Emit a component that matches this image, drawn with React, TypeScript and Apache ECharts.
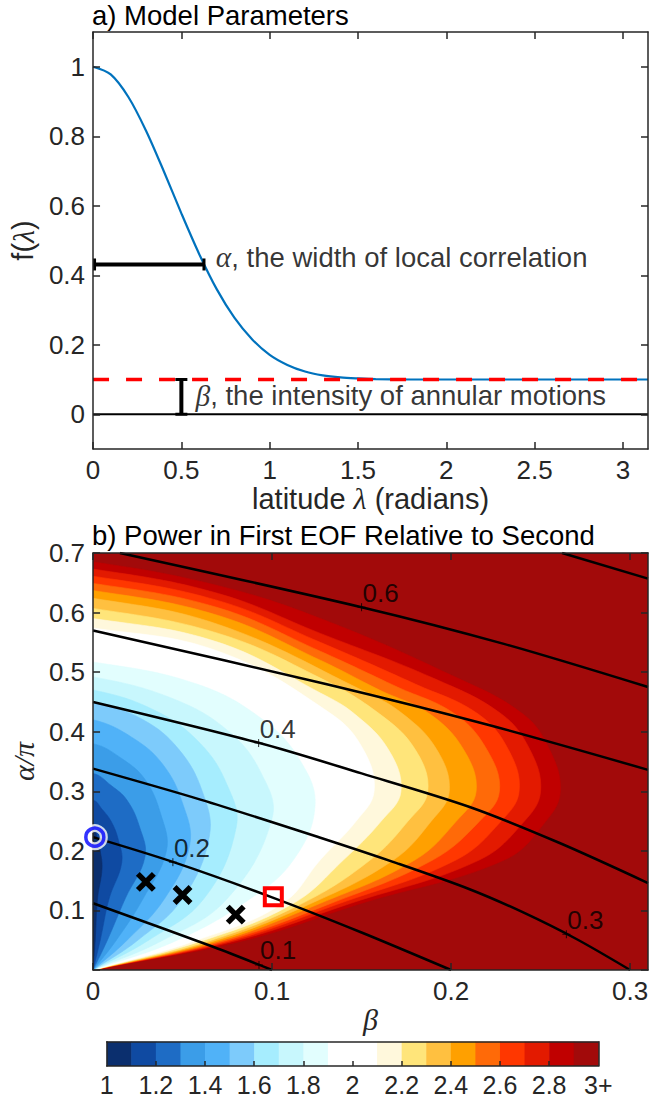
import React, { useEffect, useRef } from "react";
import * as echarts from "echarts";

// ---------------- Panel a) data ----------------
const lambdaValues = [0, 0.1, 0.2, 0.3, 0.4, 0.5, 0.6, 0.7, 0.8, 0.9, 1.0, 1.1, 1.2, 1.3, 1.4, 1.5, 1.6, 1.8, 2.0, 2.5, 3.1416];
const fValues = [1.0, 0.978, 0.913, 0.816, 0.7, 0.578, 0.462, 0.36, 0.278, 0.216, 0.171, 0.142, 0.123, 0.112, 0.106, 0.103, 0.101, 0.1, 0.1, 0.1, 0.1];
const lambdaMax = 3.1416;
const betaLevel = 0.1;
const alphaBar = [[0, 0.431, 0.628]]; // [x0, y, x1]
const betaBar = [[0.5, 0, 0.1]]; // [x, y0, y1]
const alphaTextAt = [[0.695, 0.431]];
const betaTextAt = [[0.58, 0.05]];
const topXTicks = [0, 0.5, 1, 1.5, 2, 2.5, 3];
const topYTicks = [0, 0.2, 0.4, 0.6, 0.8, 1];

// ---------------- Panel b) data ----------------
const bottomXTicks = [0, 0.1, 0.2, 0.3];
const bottomYTicks = [0, 0.1, 0.2, 0.3, 0.4, 0.5, 0.6, 0.7];
const bottomYLabels = [0.1, 0.2, 0.3, 0.4, 0.5, 0.6, 0.7];
const contourLevels = [1.1, 1.2, 1.3, 1.4, 1.5, 1.6, 1.7, 1.8, 1.9, 2.1, 2.2, 2.3, 2.4, 2.5, 2.6, 2.7, 2.8, 2.9];
const contourPaths: number[][][] = [
  [[0, 0], [0.0012, 0.05], [0.0025, 0.12], [0.005, 0.17], [0.004, 0.2], [0.002, 0.225], [0, 0.245]],
  [[0, 0], [0.004, 0.05], [0.009, 0.12], [0.016, 0.18], [0.014, 0.22], [0.01, 0.25], [0.005, 0.27], [0, 0.285]],
  [[0, 0], [0.008, 0.05], [0.018, 0.12], [0.029, 0.19], [0.026, 0.24], [0.019, 0.285], [0.01, 0.31], [0, 0.33]],
  [[0, 0], [0.013, 0.05], [0.028, 0.12], [0.041, 0.2], [0.038, 0.26], [0.029, 0.32], [0.016, 0.355], [0, 0.38]],
  [[0, 0], [0.019, 0.05], [0.04, 0.12], [0.054, 0.21], [0.05, 0.28], [0.039, 0.345], [0.022, 0.39], [0, 0.42]],
  [[0, 0], [0.025, 0.05], [0.05, 0.12], [0.065, 0.225], [0.061, 0.3], [0.048, 0.37], [0.028, 0.42], [0, 0.45]],
  [[0, 0], [0.031, 0.05], [0.062, 0.12], [0.08, 0.24], [0.075, 0.31], [0.06, 0.38], [0.035, 0.435], [0, 0.47]],
  [[0, 0], [0.039, 0.05], [0.075, 0.12], [0.1, 0.255], [0.094, 0.33], [0.076, 0.4], [0.045, 0.455], [0, 0.492]],
  [[0, 0], [0.047, 0.05], [0.088, 0.12], [0.112, 0.185], [0.124, 0.275], [0.116, 0.35], [0.095, 0.42], [0.058, 0.48], [0, 0.517]],
  [[0, 0], [0.058, 0.05], [0.106, 0.112], [0.127, 0.185], [0.147, 0.25], [0.157, 0.3], [0.151, 0.37], [0.133, 0.43], [0.07, 0.535], [0, 0.574]],
  [[0, 0], [0.062, 0.05], [0.112, 0.112], [0.14, 0.185], [0.161, 0.25], [0.172, 0.3], [0.165, 0.37], [0.146, 0.43], [0.127, 0.465], [0.07, 0.55], [0, 0.59]],
  [[0, 0], [0.066, 0.05], [0.117, 0.112], [0.155, 0.185], [0.176, 0.25], [0.187, 0.3], [0.18, 0.37], [0.16, 0.43], [0.127, 0.49], [0.07, 0.565], [0, 0.607]],
  [[0, 0], [0.069, 0.05], [0.122, 0.112], [0.168, 0.185], [0.189, 0.25], [0.199, 0.3], [0.192, 0.37], [0.173, 0.43], [0.15, 0.47], [0.07, 0.58], [0, 0.624]],
  [[0, 0], [0.072, 0.05], [0.127, 0.112], [0.18, 0.185], [0.203, 0.25], [0.214, 0.3], [0.207, 0.37], [0.188, 0.43], [0.16, 0.47], [0.127, 0.52], [0.07, 0.595], [0, 0.637]],
  [[0, 0], [0.075, 0.05], [0.133, 0.112], [0.19, 0.185], [0.216, 0.25], [0.227, 0.3], [0.22, 0.37], [0.202, 0.43], [0.17, 0.475], [0.127, 0.535], [0.07, 0.608], [0, 0.649]],
  [[0, 0], [0.078, 0.05], [0.138, 0.112], [0.203, 0.185], [0.228, 0.25], [0.238, 0.3], [0.232, 0.37], [0.215, 0.43], [0.18, 0.48], [0.127, 0.55], [0.07, 0.62], [0, 0.661]],
  [[0, 0], [0.081, 0.05], [0.144, 0.112], [0.216, 0.185], [0.241, 0.25], [0.25, 0.3], [0.244, 0.37], [0.228, 0.43], [0.19, 0.49], [0.127, 0.565], [0.07, 0.632], [0, 0.673]],
  [[0, 0], [0.085, 0.05], [0.15, 0.112], [0.23, 0.185], [0.253, 0.25], [0.261, 0.3], [0.255, 0.37], [0.24, 0.43], [0.2, 0.495], [0.127, 0.59], [0.07, 0.645], [0, 0.685]],
];
const bandEdges = [1.0, 1.1, 1.2, 1.3, 1.4, 1.5, 1.6, 1.7, 1.8, 1.9, 2.0, 2.1, 2.2, 2.3, 2.4, 2.5, 2.6, 2.7, 2.8, 2.9];
const bandColors = [
  "#0b2f6e", "#0f4aa2", "#1e6cc5", "#3b9de8", "#50b2f8", "#7dcbfb", "#a6edfe", "#c8f7fd", "#e2fefe", "#ffffff",
  "#ffffff", "#fff8dc", "#ffe57a", "#ffc040", "#ffa000", "#ff6a08", "#ff3700", "#e31a00", "#c00000", "#a20a0a",
];
const lineContours: number[][][] = [
  [[0, 0.112], [0.067, 0.039], [0.1, 0]],
  [[0, 0.223], [0.045, 0.181], [0.1, 0.122], [0.15, 0.063], [0.2, 0]],
  [[0, 0.338], [0.06, 0.286], [0.127, 0.222], [0.17, 0.179], [0.21, 0.136], [0.24, 0.097], [0.27, 0.052], [0.3, 0]],
  [[0, 0.45], [0.093, 0.381], [0.15, 0.33], [0.21, 0.274], [0.26, 0.214], [0.31, 0.146]],
  [[0, 0.57], [0.13, 0.48], [0.22, 0.412], [0.31, 0.336]],
  [[0.015, 0.7], [0.15, 0.609], [0.23, 0.547], [0.31, 0.475]],
  [[0.262, 0.7], [0.31, 0.657]],
];
const lineLabelPoints = [[0.0927, 0.0084], [0.0446, 0.181], [0.2644, 0.06], [0.0925, 0.381], [0.15, 0.609]];
const lineLabelTexts = ["0.1", "0.2", "0.3", "0.4", "0.6"];
const circlePoint = [[0.001, 0.223]];
const crossPoints = [[0.0295, 0.148], [0.05, 0.126], [0.0797, 0.093]];
const squarePoint = [[0.1007, 0.123]];
const colorbarTicks = [1, 1.2, 1.4, 1.6, 1.8, 2, 2.2, 2.4, 2.6, 2.8, 3];
const colorbarInnerTicks = [1.2, 1.4, 1.6, 1.8, 2, 2.2, 2.4, 2.6, 2.8];

const FONT = "'Liberation Sans', Arial, Helvetica, sans-serif";
const SERIF = "'Liberation Serif', 'DejaVu Serif', serif";
const AX = "#262626";
const FS_TICK = 26;
const FS_NAME = 29;
const FS_TITLE = 27.5;
const FS_NOTE = 27.5;

const richName = {
  g: { fontFamily: SERIF, fontStyle: "italic", fontSize: FS_NAME + 1, color: AX },
};
const richNote = {
  g: { fontFamily: SERIF, fontStyle: "italic", fontSize: FS_NOTE + 2, color: "#000" },
};

function mkAxis(o: any) {
  const showLabel = !!o.labels;
  return {
    type: "value",
    gridIndex: o.grid,
    min: o.min,
    max: o.max,
    position: o.position,
    z: 5,
    axisLine: { show: true, onZero: false, lineStyle: { color: AX, width: 1.5 } },
    axisTick: o.ticks
      ? { show: true, inside: true, length: o.tickLen || 7, customValues: o.ticks, lineStyle: { color: AX, width: 1.5 } }
      : { show: false },
    axisLabel: showLabel
      ? {
          show: true,
          customValues: o.labels,
          margin: o.margin || 8,
          fontSize: o.labelSize || FS_TICK,
          color: AX,
          fontFamily: FONT,
          showMinLabel: true,
          showMaxLabel: true,
          formatter: o.formatter || ((v: number) => String(v)),
        }
      : { show: false },
    splitLine: { show: false },
    name: o.name,
    nameLocation: "middle",
    nameGap: o.nameGap,
    nameRotate: o.nameRotate,
    nameTextStyle: { fontSize: FS_NAME, color: AX, fontFamily: FONT, rich: richName },
  };
}

export default function App() {
  const ref = useRef<HTMLDivElement>(null);
  useEffect(() => {
    if (!ref.current) return;
    const chart = echarts.init(ref.current, undefined, { renderer: "svg" });

    const topGrid = { left: 92, top: 32, width: 556, height: 417, show: false };
    const botGrid = {
      left: 92, top: 553, width: 556, height: 417, show: true,
      backgroundColor: bandColors[bandColors.length - 1], borderWidth: 0,
    };
    const cbGrid = { left: 106.7, top: 1041.7, width: 491.6, height: 24.3, show: false };

    const xAxis = [
      mkAxis({ grid: 0, min: 0, max: lambdaMax, position: "bottom", ticks: topXTicks, labels: topXTicks,
        name: "latitude {g|λ} (radians)", nameGap: 29 }),
      mkAxis({ grid: 0, min: 0, max: lambdaMax, position: "top", ticks: topXTicks }),
      mkAxis({ grid: 1, min: 0, max: 0.31, position: "bottom", ticks: bottomXTicks, labels: bottomXTicks,
        name: "{g|β}", nameGap: 28 }),
      mkAxis({ grid: 1, min: 0, max: 0.31, position: "top", ticks: bottomXTicks }),
      mkAxis({ grid: 2, min: 1, max: 3, position: "bottom", ticks: colorbarInnerTicks, tickLen: 5,
        labels: colorbarTicks, margin: 6, labelSize: 25, formatter: (v: number) => (v === 3 ? "3+" : String(v)) }),
      mkAxis({ grid: 2, min: 1, max: 3, position: "top" }),
    ];
    const yAxis = [
      mkAxis({ grid: 0, min: -0.1, max: 1.1, position: "left", ticks: topYTicks, labels: topYTicks,
        name: "f({g|λ})", nameGap: 50, nameRotate: 90 }),
      mkAxis({ grid: 0, min: -0.1, max: 1.1, position: "right", ticks: topYTicks }),
      mkAxis({ grid: 1, min: 0, max: 0.7, position: "left", ticks: bottomYTicks, labels: bottomYLabels,
        name: "{g|α/π}", nameGap: 50, nameRotate: 90 }),
      mkAxis({ grid: 1, min: 0, max: 0.7, position: "right", ticks: bottomYTicks }),
      mkAxis({ grid: 2, min: 0, max: 1, position: "left" }),
      mkAxis({ grid: 2, min: 0, max: 1, position: "right" }),
    ];

    const curveData = lambdaValues.map((l, i) => [l, fValues[i]]);

    const series: any[] = [
      // ---------- panel a ----------
      {
        type: "line", xAxisIndex: 0, yAxisIndex: 0, data: curveData, smooth: 0.3,
        showSymbol: false, symbol: "none", lineStyle: { color: "#0072bd", width: 2.2 }, z: 2,
      },
      {
        type: "line", xAxisIndex: 0, yAxisIndex: 0, data: [[0, 0], [lambdaMax, 0]], symbol: "none",
        lineStyle: { color: "#000", width: 2 }, z: 2,
      },
      {
        type: "line", xAxisIndex: 0, yAxisIndex: 0, data: [[0, betaLevel], [lambdaMax, betaLevel]], symbol: "none",
        lineStyle: { color: "#ff0000", width: 3.6, type: [16, 17] }, z: 3,
      },
      {
        type: "custom", xAxisIndex: 0, yAxisIndex: 0, data: alphaBar, z: 4,
        renderItem: (_p: any, api: any) => {
          const a = api.coord([api.value(0), api.value(1)]);
          const b = api.coord([api.value(2), api.value(1)]);
          return {
            type: "group",
            children: [
              { type: "line", shape: { x1: a[0], y1: a[1], x2: b[0], y2: b[1] }, style: { stroke: "#000", lineWidth: 4 } },
              { type: "line", shape: { x1: a[0] + 1.5, y1: a[1] - 6, x2: a[0] + 1.5, y2: a[1] + 6 }, style: { stroke: "#000", lineWidth: 3 } },
              { type: "line", shape: { x1: b[0], y1: b[1] - 6, x2: b[0], y2: b[1] + 6 }, style: { stroke: "#000", lineWidth: 3 } },
            ],
          };
        },
      },
      {
        type: "custom", xAxisIndex: 0, yAxisIndex: 0, data: betaBar, z: 4,
        renderItem: (_p: any, api: any) => {
          const a = api.coord([api.value(0), api.value(1)]);
          const b = api.coord([api.value(0), api.value(2)]);
          return {
            type: "group",
            children: [
              { type: "line", shape: { x1: a[0], y1: a[1], x2: b[0], y2: b[1] }, style: { stroke: "#000", lineWidth: 4 } },
              { type: "line", shape: { x1: a[0] - 6, y1: a[1], x2: a[0] + 6, y2: a[1] }, style: { stroke: "#000", lineWidth: 3 } },
              { type: "line", shape: { x1: b[0] - 6, y1: b[1], x2: b[0] + 6, y2: b[1] }, style: { stroke: "#000", lineWidth: 3 } },
            ],
          };
        },
      },
      {
        type: "scatter", xAxisIndex: 0, yAxisIndex: 0, data: alphaTextAt, symbolSize: 0, z: 5,
        label: {
          show: true, position: "right", distance: 0, offset: [0, -7],
          formatter: "{g|α}, the width of local correlation",
          fontSize: FS_NOTE, color: "#000", fontFamily: FONT, rich: richNote,
        },
      },
      {
        type: "scatter", xAxisIndex: 0, yAxisIndex: 0, data: betaTextAt, symbolSize: 0, z: 5,
        label: {
          show: true, position: "right", distance: 0, offset: [0, -1],
          formatter: "{g|β}, the intensity of annular motions",
          fontSize: FS_NOTE, color: "#000", fontFamily: FONT, rich: richNote,
        },
      },
      // ---------- panel b ----------
      {
        type: "custom", xAxisIndex: 2, yAxisIndex: 2, z: 1,
        data: contourLevels.map((_, i) => [contourLevels.length - 1 - i, 0]),
        renderItem: (params: any, api: any) => {
          const idx = api.value(0);
          const pts = contourPaths[idx];
          const level = contourLevels[idx];
          const ci = Math.round((level - 0.1 - bandEdges[0]) * 10);
          const poly = pts.map((p) => api.coord(p));
          const first = pts[1];
          const last = pts[pts.length - 1];
          poly.push(api.coord([-0.02, last[1]]));
          poly.push(api.coord([-first[0], -first[1]]));
          const cs = params.coordSys;
          return {
            type: "polygon",
            shape: { points: poly, smooth: 0.4 },
            style: { fill: bandColors[ci], stroke: bandColors[ci], lineWidth: 0.6 },
            clipPath: { type: "rect", shape: { x: cs.x, y: cs.y, width: cs.width, height: cs.height } },
          };
        },
      },
      ...lineContours.map((ln) => ({
        type: "line", xAxisIndex: 2, yAxisIndex: 2, data: ln, smooth: 0.3, symbol: "none", z: 3,
        lineStyle: { color: "#000", width: 2.5 },
      })),
      {
        type: "scatter", xAxisIndex: 2, yAxisIndex: 2, z: 4,
        data: lineLabelPoints.map((p, i) => ({ value: p, name: lineLabelTexts[i] })),
        symbol: "path://M5 0 L5 10 M0 5 L10 5", symbolSize: 8,
        itemStyle: { color: "transparent", borderColor: "#000", borderWidth: 1 },
        label: {
          show: true, position: "top", align: "left", distance: 0, offset: [1, 3],
          formatter: (p: any) => p.name, fontSize: FS_TICK, color: "#000", fontFamily: FONT,
        },
      },
      {
        type: "scatter", xAxisIndex: 2, yAxisIndex: 2, z: 6, data: circlePoint, symbol: "circle", symbolSize: 18,
        itemStyle: { color: "transparent", borderColor: "#ffffff", borderWidth: 8 },
      },
      {
        type: "scatter", xAxisIndex: 2, yAxisIndex: 2, z: 7, data: circlePoint, symbol: "circle", symbolSize: 18,
        itemStyle: { color: "transparent", borderColor: "#0000ff", borderWidth: 3.5 },
      },
      {
        type: "scatter", xAxisIndex: 2, yAxisIndex: 2, z: 6, data: crossPoints,
        symbol: "path://M0 0 L10 10 M10 0 L0 10", symbolSize: 16,
        itemStyle: { color: "transparent", borderColor: "#000000", borderWidth: 5.5, opacity: 1 },
      },
      {
        type: "scatter", xAxisIndex: 2, yAxisIndex: 2, z: 6, data: squarePoint, symbol: "rect", symbolSize: 17,
        itemStyle: { color: "transparent", borderColor: "#ff0000", borderWidth: 4, opacity: 1 },
      },
      // ---------- colorbar ----------
      {
        type: "custom", xAxisIndex: 4, yAxisIndex: 4, z: 1,
        data: bandEdges.map((e, i) => [e, i]),
        renderItem: (_p: any, api: any) => {
          const lo = api.value(0);
          const i = api.value(1);
          const p0 = api.coord([lo, 1]);
          const p1 = api.coord([lo + 0.1, 0]);
          return {
            type: "rect",
            shape: { x: p0[0], y: p0[1], width: p1[0] - p0[0] + 0.6, height: p1[1] - p0[1] },
            style: { fill: bandColors[i] },
          };
        },
      },
    ];

    chart.setOption({
      animation: false,
      backgroundColor: "#ffffff",
      textStyle: { fontFamily: FONT },
      title: [
        { text: "a) Model Parameters", left: 92, top: 1, padding: 0,
          textStyle: { fontSize: FS_TITLE, fontWeight: "normal", color: "#000", fontFamily: FONT } },
        { text: "b) Power in First EOF Relative to Second", left: 92, top: 521, padding: 0,
          textStyle: { fontSize: FS_TITLE, fontWeight: "normal", color: "#000", fontFamily: FONT } },
      ],
      grid: [topGrid, botGrid, cbGrid],
      xAxis,
      yAxis,
      series,
    });
    return () => chart.dispose();
  }, []);
  return (
    <div
      ref={ref}
      style={{ position: "absolute", left: 0, top: 0, width: 652, height: 1101, background: "#fff" }}
    />
  );
}
